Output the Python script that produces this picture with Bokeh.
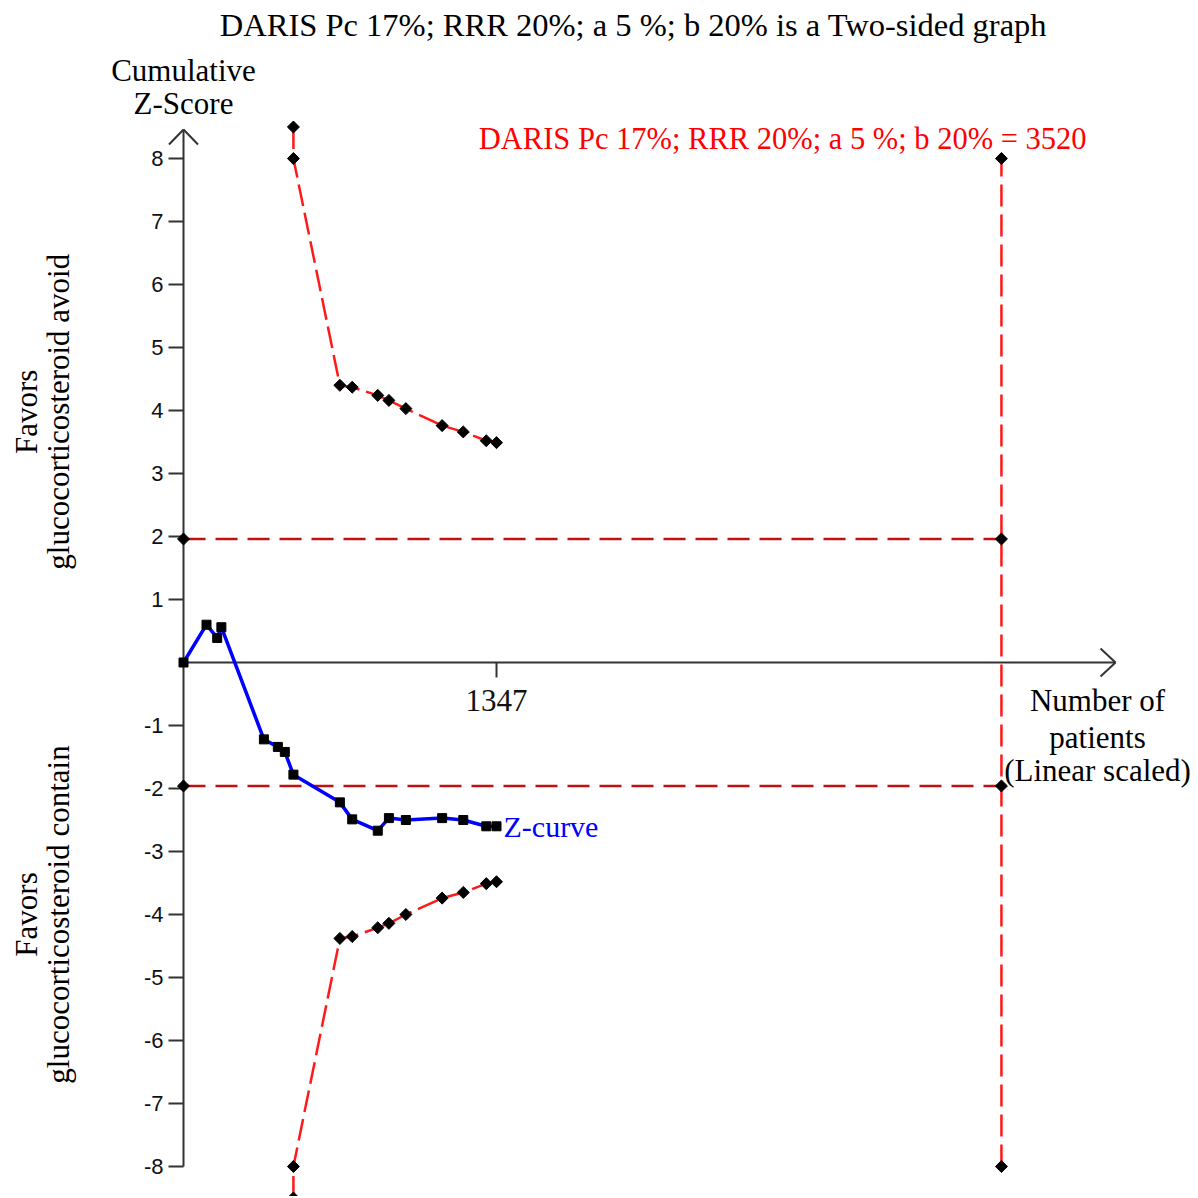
import numpy as np
from bokeh.plotting import figure
from bokeh.models import Range1d
from bokeh.core.properties import value
from bokeh.embed import file_html
from bokeh.resources import INLINE

# ---------------- data ----------------
title_text = "DARIS Pc 17%; RRR 20%; a 5 %; b 20% is a Two-sided graph"
daris_label = "DARIS Pc 17%; RRR 20%; a 5 %; b 20% = 3520"
required_is = 3520
conv_z = 1.96

z_x = [0, 99, 145, 163, 346, 406, 436, 473, 673, 726, 836, 884, 957, 1113, 1204, 1303, 1347]
z_curve = [0, 0.60, 0.39, 0.56, -1.22, -1.34, -1.42, -1.78, -2.22, -2.49, -2.67,
           -2.47, -2.50, -2.47, -2.50, -2.60, -2.60]

bound_x = [473, 473, 673, 726, 836, 884, 957, 1113, 1204, 1303, 1347]
upper_bound = [8.5, 8.0, 4.40, 4.37, 4.24, 4.16, 4.03, 3.76, 3.66, 3.52, 3.49]
lower_bound = [-8.5, -8.0, -4.38, -4.35, -4.21, -4.14, -4.00, -3.74, -3.65, -3.51, -3.48]

y_ticks = [8, 7, 6, 5, 4, 3, 2, 1, -1, -2, -3, -4, -5, -6, -7, -8]
y_tick_labels = ["8", "7", "6", "5", "4", "3", "2", "1",
                 "-1", "-2", "-3", "-4", "-5", "-6", "-7", "-8"]
x_ticks = [1347]
x_tick_labels = ["1347"]

# ---------------- layout constants ----------------
W = H = 1196
PX_X = 313 / 1347.0      # pixels per patient
PX_Y = 63.0              # pixels per z unit
OX, OY = 183, 662        # pixel position of origin in picture
x0 = -OX / PX_X
y1 = OY / PX_Y
x_rng = Range1d(x0, x0 + W / PX_X)
y_rng = Range1d(y1 - H / PX_Y, y1)

SERIF = value("Liberation Serif")
SANS = value("Liberation Sans")
AX = "#333333"

p = figure(width=W, height=H, x_range=x_rng, y_range=y_rng,
           output_backend="svg", toolbar_location=None,
           x_axis_location=None, y_axis_location=None,
           min_border=0, min_border_left=0, min_border_right=0,
           min_border_top=0, min_border_bottom=0)
p.grid.visible = False
p.outline_line_color = None
p.background_fill_color = "white"
p.border_fill_color = "white"

ux = 1 / PX_X   # one pixel in x data units
uy = 1 / PX_Y

def px(xp):
    return (xp - OX) * ux

def py(yp):
    return (OY - yp) * uy

# ---------- axes (drawn by hand, crossing at origin) ----------
y_top = py(129)
x_right = px(1115)
p.segment(x0=[0], y0=[y_ticks[-1]], x1=[0], y1=[y_top], line_color=AX, line_width=2)
p.segment(x0=[-14.5 * ux, 0], y0=[y_top - 15 * uy, y_top],
          x1=[0, 14.5 * ux], y1=[y_top, y_top - 15 * uy],
          line_color=AX, line_width=2)
p.segment(x0=[0], y0=[0], x1=[x_right], y1=[0], line_color=AX, line_width=2)
p.segment(x0=[x_right - 15 * ux] * 2, y0=[14 * uy, -14 * uy], x1=[x_right] * 2, y1=[0, 0],
          line_color=AX, line_width=2)

# y ticks
p.segment(x0=[-15 * ux] * len(y_ticks), y0=y_ticks, x1=[0] * len(y_ticks), y1=y_ticks,
          line_color=AX, line_width=2)
p.text(x=[0] * len(y_ticks), y=y_ticks, text=y_tick_labels, x_offset=-20,
       text_align="right", text_baseline="middle", text_font=SANS,
       text_font_size="22px", text_color="#111111")
# x ticks
p.segment(x0=x_ticks, y0=[0] * len(x_ticks), x1=x_ticks, y1=[-15 * uy] * len(x_ticks),
          line_color=AX, line_width=2)
p.text(x=x_ticks, y=[py(700)] * len(x_ticks), text=x_tick_labels, text_align="center",
       text_baseline="middle", text_font=SERIF, text_font_size="31px", text_color="#111111")

# ---------- conventional boundaries and required information size ----------
CONV = "#c01010"
p.segment(x0=[0, 0], y0=[conv_z, -conv_z], x1=[required_is] * 2, y1=[conv_z, -conv_z],
          line_color=CONV, line_width=2.5, line_dash="22 10")
p.segment(x0=[required_is], y0=[-8], x1=[required_is], y1=[8],
          line_color="#ff1a1a", line_width=2.5, line_dash="22 8")
p.scatter(x=[0, 0, required_is, required_is, required_is, required_is],
          y=[conv_z, -conv_z, conv_z, -conv_z, 8, -8],
          marker="square", angle=np.pi / 4, size=8.5, color="black")

# ---------- monitoring boundaries ----------
for yb in (upper_bound, lower_bound):
    p.line(bound_x, yb, line_color="#ff1a1a", line_width=2.5, line_dash="22 7")
    p.scatter(bound_x, yb, marker="square", angle=np.pi / 4, size=8.5, color="black")

# ---------- Z-curve ----------
p.line(z_x, z_curve, line_color="#0000ff", line_width=3.5)
p.scatter(z_x, z_curve, marker="square", size=9, color="black")

# ---------- texts ----------
def txt(x, y, s, color="black", align="center", size="31px", angle=0.0):
    p.text(x=[x], y=[y], text=[s], text_align=align, text_baseline="middle",
           text_font=SERIF, text_font_size=size, text_color=color, angle=angle)

txt(px(633), py(24), title_text, size="32.5px")
txt(0, py(70), "Cumulative")
txt(0, py(103), "Z-Score")
txt(px(1086), py(138), daris_label, color="#ff0000", align="right", size="30.5px")
txt(z_x[-1] + 7 * ux, z_curve[-1], "Z-curve", color="#0000ff", align="left", size="30px")
txt(px(1097), py(700), "Number of")
txt(px(1097), py(737), "patients")
txt(px(1097), py(770), "(Linear scaled)")

for yc, word in ((3.98, "avoid"), (-4.0, "contain")):
    txt(px(26), yc, "Favors", angle=np.pi / 2)
    txt(px(58), yc, "glucocorticosteroid " + word, angle=np.pi / 2)

open("out.html", "w").write(file_html(p, INLINE))
